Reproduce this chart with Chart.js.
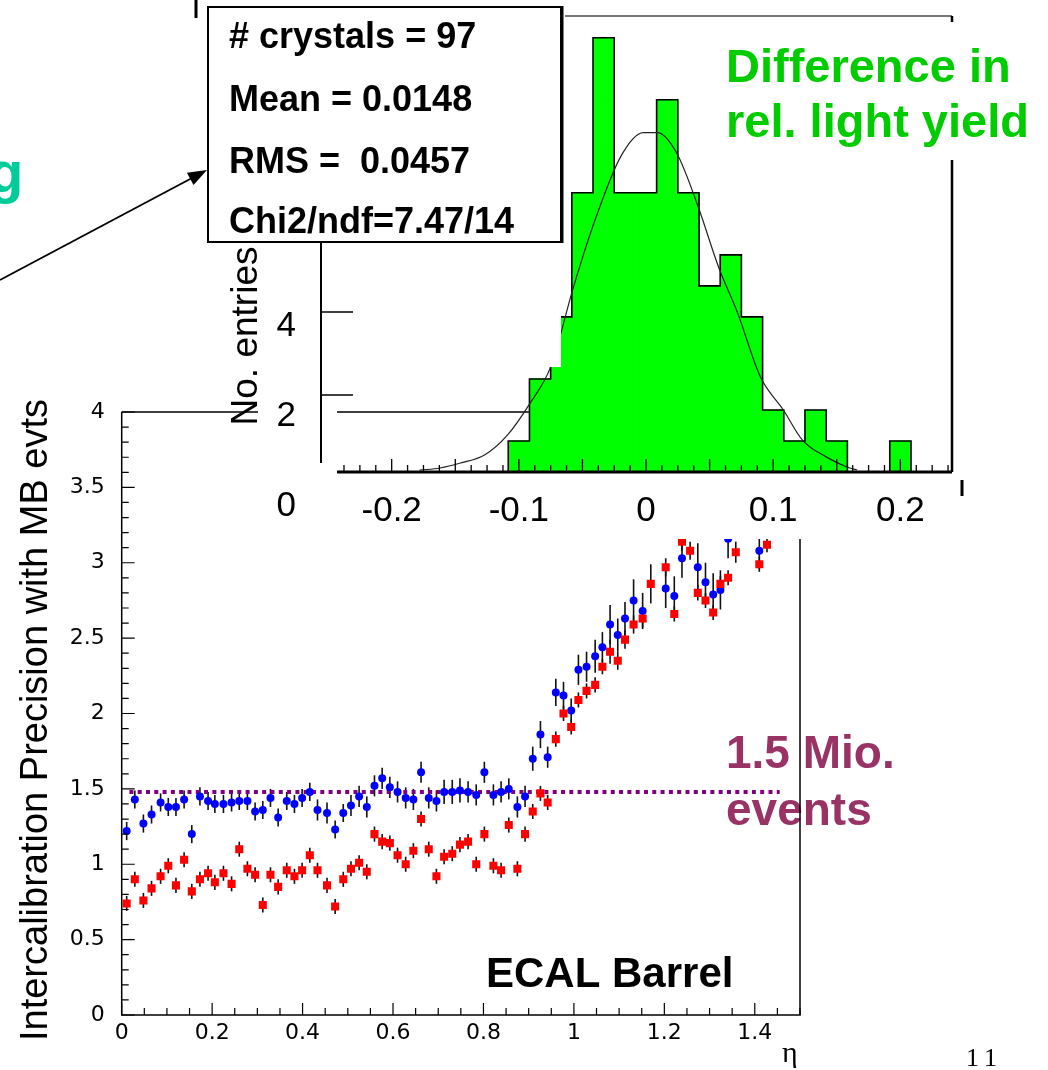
<!DOCTYPE html>
<html>
<head>
<meta charset="utf-8">
<script src="https://cdn.jsdelivr.net/npm/chart.js@4.4.1/dist/chart.umd.min.js"></script>
<style>
  html, body { margin: 0; padding: 0; background: #fff; }
  #wrap { position: relative; width: 1048px; height: 1070px; overflow: hidden; background: #fff; }
  #wrap canvas { position: absolute; left: 0; top: 0; }
</style>
</head>
<body>
<div id="wrap">
  <canvas id="main" width="1048" height="1070"></canvas>
  <canvas id="hist" width="1048" height="1070"></canvas>
</div>
<script>
// ---------- ECAL barrel: intercalibration precision vs eta ----------
const etaValues = [
  0.011, 0.029, 0.048, 0.066, 0.086, 0.103, 0.120, 0.138, 0.155, 0.173,
  0.191, 0.206, 0.225, 0.243, 0.260, 0.278, 0.295, 0.312, 0.329, 0.346,
  0.365, 0.382, 0.399, 0.416, 0.433, 0.454, 0.472, 0.490, 0.507, 0.525,
  0.542, 0.559, 0.576, 0.593, 0.610, 0.628, 0.645, 0.662, 0.679, 0.696,
  0.713, 0.731, 0.748, 0.766, 0.784, 0.802, 0.822, 0.839, 0.856, 0.875,
  0.892, 0.909, 0.926, 0.942, 0.960, 0.977, 0.994, 1.010, 1.028, 1.047,
  1.063, 1.080, 1.097, 1.113, 1.132, 1.152, 1.170, 1.187, 1.203, 1.222,
  1.239, 1.257, 1.274, 1.291, 1.308, 1.324, 1.341, 1.358, 1.375, 1.392,
  1.410, 1.427
];
const precisionBlue = [
  1.22, 1.43, 1.27, 1.33, 1.41, 1.38, 1.38, 1.43, 1.20, 1.45,
  1.42, 1.40, 1.40, 1.41, 1.42, 1.42, 1.35, 1.36, 1.44, 1.31,
  1.42, 1.40, 1.44, 1.48, 1.36, 1.34, 1.23, 1.34, 1.39, 1.45,
  1.38, 1.52, 1.57, 1.51, 1.48, 1.44, 1.43, 1.61, 1.44, 1.42,
  1.48, 1.48, 1.49, 1.48, 1.46, 1.61, 1.46, 1.48, 1.50, 1.38,
  1.45, 1.70, 1.86, 1.71, 2.14, 2.12, 2.02, 2.29, 2.31, 2.38,
  2.44, 2.59, 2.52, 2.63, 2.75, 2.68, null, null, 2.83, 2.78,
  3.03, null, 2.97, 2.87, 2.79, 2.82, 3.16, null, null, null,
  3.08, null
];
const errorBlue = [
  0.06, 0.06, 0.06, 0.06, 0.06, 0.06, 0.06, 0.06, 0.06, 0.06,
  0.06, 0.06, 0.06, 0.06, 0.06, 0.06, 0.06, 0.06, 0.06, 0.06,
  0.06, 0.06, 0.06, 0.06, 0.07, 0.07, 0.06, 0.06, 0.07, 0.07,
  0.07, 0.07, 0.07, 0.07, 0.07, 0.07, 0.07, 0.07, 0.07, 0.07,
  0.08, 0.08, 0.08, 0.07, 0.07, 0.07, 0.07, 0.07, 0.07, 0.07,
  0.07, 0.08, 0.09, 0.07, 0.09, 0.09, 0.08, 0.10, 0.10, 0.11,
  0.10, 0.13, 0.11, 0.11, 0.14, 0.12, 0.00, 0.00, 0.13, 0.13,
  0.13, 0.00, 0.16, 0.13, 0.14, 0.13, 0.13, 0.00, 0.00, 0.00,
  0.12, 0.00
];
const precisionRed = [
  0.74, 0.90, 0.76, 0.84, 0.92, 0.99, 0.86, 1.03, 0.82, 0.90,
  0.94, 0.88, 0.94, 0.87, 1.10, 0.97, 0.93, 0.73, 0.93, 0.85,
  0.96, 0.92, 0.96, 1.06, 0.96, 0.86, 0.72, 0.90, 0.97, 1.01,
  0.95, 1.20, 1.15, 1.14, 1.06, 1.00, 1.09, 1.30, 1.10, 0.92,
  1.05, 1.07, 1.13, 1.15, 1.00, 1.20, 0.99, 0.96, 1.26, 0.97,
  1.20, 1.35, 1.47, 1.41, 1.83, 2.00, 1.91, 2.09, 2.15, 2.19,
  2.31, 2.41, 2.35, 2.49, 2.59, 2.63, 2.86, null, 2.97, 2.66,
  3.14, 3.08, 2.80, 2.75, 2.67, 2.86, 2.90, 3.07, null, null,
  2.99, 3.12
];
const errorRed = [
  0.05, 0.05, 0.05, 0.05, 0.05, 0.05, 0.05, 0.05, 0.05, 0.05,
  0.05, 0.05, 0.05, 0.05, 0.05, 0.05, 0.05, 0.05, 0.05, 0.05,
  0.05, 0.05, 0.05, 0.05, 0.05, 0.05, 0.05, 0.05, 0.05, 0.05,
  0.05, 0.05, 0.05, 0.05, 0.05, 0.05, 0.05, 0.05, 0.05, 0.05,
  0.05, 0.05, 0.05, 0.05, 0.05, 0.05, 0.05, 0.05, 0.05, 0.05,
  0.05, 0.05, 0.05, 0.05, 0.05, 0.05, 0.05, 0.05, 0.05, 0.05,
  0.05, 0.08, 0.06, 0.06, 0.06, 0.06, 0.13, 0.00, 0.06, 0.05,
  0.06, 0.06, 0.05, 0.05, 0.05, 0.05, 0.05, 0.07, 0.00, 0.00,
  0.05, 0.05
];
const targetLevel = 1.48;          // precision reached with 1.5 Mio. events
const targetRange = [0.017, 1.455];
const mainXTicks = [0, 0.2, 0.4, 0.6, 0.8, 1, 1.2, 1.4];
const mainYTicks = [0, 0.5, 1, 1.5, 2, 2.5, 3, 3.5, 4];

// ---------- inset: difference in relative light yield ----------
const binCenters = [
  -0.1, -0.08333, -0.06667, -0.05, -0.03333, -0.01667, 0, 0.01667, 0.03333, 0.05,
  0.06667, 0.08333, 0.1, 0.11667, 0.13333, 0.15, 0.16667, 0.18333, 0.2
];
const binCounts = [1, 3, 5, 9, 14, 9, 9, 12, 9, 6, 7, 5, 2, 1, 2, 1, 0, 0, 1];
const binWidth = 0.016667;
const fitX = [-0.178, -0.162, -0.146, -0.127, -0.109, -0.091, -0.075, -0.057, -0.042, -0.020,
              -0.002, 0.009, 0.024, 0.041, 0.057, 0.072, 0.090, 0.108, 0.123, 0.142, 0.158, 0.166];
const fitY = [0.06, 0.13, 0.29, 0.55, 1.19, 2.23, 3.39, 5.97, 7.90, 10.16,
              10.94, 10.94, 10.29, 8.55, 6.61, 5.13, 3.06, 2.00, 1.03, 0.48, 0.16, 0.06];
const histXTicks = [-0.2, -0.1, 0, 0.1, 0.2];
const histYTicks = [0, 2, 4];
const statsLines = ['# crystals = 97', 'Mean = 0.0148', 'RMS =  0.0457', 'Chi2/ndf=7.47/14'];

const SANS = '"Liberation Sans", Arial, Helvetica, sans-serif';
const SERIF = '"Liberation Serif", "Times New Roman", serif';
Chart.defaults.font.family = SANS;
Chart.defaults.color = '#000';

// ---------- main plot ----------
const mainDecor = {
  id: 'mainDecor',
  beforeDatasetsDraw(chart) {
    const { ctx, scales: { x, y } } = chart;
    ctx.save();
    ctx.strokeStyle = '#111';
    ctx.lineWidth = 1.6;
    [[precisionBlue, errorBlue], [precisionRed, errorRed]].forEach(([vals, errs]) => {
      vals.forEach((v, i) => {
        if (v === null || !errs[i]) return;
        const px = x.getPixelForValue(etaValues[i]);
        ctx.beginPath();
        ctx.moveTo(px, y.getPixelForValue(v - errs[i]));
        ctx.lineTo(px, y.getPixelForValue(v + errs[i]));
        ctx.stroke();
      });
    });
    ctx.restore();
  },
  afterDatasetsDraw(chart) {
    const { ctx, chartArea: a, scales: { x, y } } = chart;
    ctx.save();
    // slide annotations inside the frame
    ctx.textAlign = 'left';
    ctx.textBaseline = 'alphabetic';
    ctx.fillStyle = '#993366';
    ctx.font = 'bold 46px ' + SANS;
    ctx.fillText('1.5 Mio.', 726, 768);
    ctx.fillText('events', 726, 825);
    ctx.fillStyle = '#000';
    ctx.font = 'bold 42px ' + SANS;
    ctx.fillText('ECAL Barrel', 486, 987);

    // the inset sits over the upper part of the frame
    ctx.fillStyle = '#fff';
    ctx.fillRect(258, 0, 1048 - 258, 539);

    // frame
    ctx.strokeStyle = '#000';
    ctx.lineWidth = 1.5;
    ctx.beginPath();
    ctx.moveTo(a.left, a.top); ctx.lineTo(a.left, a.bottom); ctx.lineTo(a.right, a.bottom); ctx.lineTo(a.right, 539);
    ctx.moveTo(a.left, a.top); ctx.lineTo(258, a.top);
    ctx.moveTo(337, a.top); ctx.lineTo(529, a.top);
    ctx.stroke();

    // ticks pointing into the frame
    ctx.lineWidth = 1.2;
    ctx.beginPath();
    for (let k = 0; k <= 40; k++) {
      const py = y.getPixelForValue(k / 10);
      const len = (k % 5 === 0) ? 13 : 7;
      ctx.moveTo(a.left, py); ctx.lineTo(a.left + len, py);
    }
    for (let k = 0; k <= 30; k++) {
      const px = x.getPixelForValue(k * 0.05);
      const len = (k % 4 === 0) ? 12 : 7;
      ctx.moveTo(px, a.bottom); ctx.lineTo(px, a.bottom - len);
    }
    ctx.stroke();
    ctx.restore();
  },
  afterDraw(chart) {
    const { ctx } = chart;
    ctx.save();
    // y title
    ctx.fillStyle = '#000';
    ctx.font = '38px ' + SANS;
    ctx.textAlign = 'center';
    ctx.textBaseline = 'alphabetic';
    ctx.translate(47, 720);
    ctx.rotate(-Math.PI / 2);
    ctx.fillText('Intercalibration Precision with MB evts', 0, 0);
    ctx.restore();

    ctx.save();
    ctx.fillStyle = '#000';
    ctx.textAlign = 'left';
    ctx.font = '30px ' + SERIF;
    ctx.fillText('η', 782, 1062);
    ctx.font = '26px ' + SERIF;
    ctx.fillText('1', 966, 1066);
    ctx.fillText('1', 984, 1066);

    // arrow pointing at the fit statistics
    ctx.strokeStyle = '#000';
    ctx.lineWidth = 1.8;
    ctx.beginPath();
    ctx.moveTo(0, 280);
    ctx.lineTo(192, 178);
    ctx.stroke();
    const ang = Math.atan2(170 - 280, 207 - 0);
    ctx.beginPath();
    ctx.moveTo(207, 170);
    ctx.lineTo(207 - 19 * Math.cos(ang) - 7 * Math.sin(ang), 170 - 19 * Math.sin(ang) + 7 * Math.cos(ang));
    ctx.lineTo(207 - 19 * Math.cos(ang) + 7 * Math.sin(ang), 170 - 19 * Math.sin(ang) - 7 * Math.cos(ang));
    ctx.closePath();
    ctx.fillStyle = '#000';
    ctx.fill();

    // slide heading fragment at the left edge
    ctx.fillStyle = '#00cc99';
    ctx.font = 'bold 58px ' + SANS;
    ctx.fillText('g', -12, 192);
    ctx.restore();
  }
};

const pts = (vals) => etaValues.map((e, i) => ({ x: e, y: vals[i] }));

new Chart(document.getElementById('main'), {
  type: 'scatter',
  data: {
    datasets: [
      {
        type: 'line',
        data: [{ x: targetRange[0], y: targetLevel }, { x: targetRange[1], y: targetLevel }],
        borderColor: '#800080',
        borderWidth: 4,
        borderDash: [4, 4.3],
        pointRadius: 0,
        fill: false,
        order: 3
      },
      {
        data: pts(precisionBlue),
        pointStyle: 'circle',
        pointRadius: 4,
        backgroundColor: '#0000ff',
        borderWidth: 0,
        order: 2
      },
      {
        data: pts(precisionRed),
        pointStyle: 'rect',
        pointRadius: 5.7,
        backgroundColor: '#ff0000',
        borderWidth: 0,
        order: 1
      }
    ]
  },
  options: {
    responsive: false,
    animation: false,
    events: [],
    layout: { padding: { left: 0, top: 412, right: 248, bottom: 0 } },
    plugins: { legend: { display: false }, tooltip: { enabled: false } },
    scales: {
      x: {
        type: 'linear', position: 'bottom', min: 0, max: 1.5,
        grid: { display: false, drawTicks: false },
        border: { display: false },
        afterBuildTicks: (s) => { s.ticks = mainXTicks.map(v => ({ value: v })); },
        afterFit: (s) => { s.height = 55; },
        ticks: {
          autoSkip: false, maxRotation: 0, padding: 5,
          font: { family: '"DejaVu Sans", sans-serif', size: 22 },
          callback: (v) => String(v)
        }
      },
      y: {
        type: 'linear', position: 'left', min: 0, max: 4,
        grid: { display: false, drawTicks: false },
        border: { display: false },
        afterBuildTicks: (s) => { s.ticks = mainYTicks.map(v => ({ value: v })); },
        afterFit: (s) => { s.width = 121.7; },
        ticks: {
          autoSkip: false, padding: 17,
          font: { family: '"DejaVu Sans", sans-serif', size: 22 },
          callback: (v) => String(v)
        }
      }
    }
  },
  plugins: [mainDecor]
});

// ---------- inset histogram ----------
const histDecor = {
  id: 'histDecor',
  afterDatasetsDraw(chart) {
    const { ctx, chartArea: a, scales: { x, yN, yLab } } = chart;
    ctx.save();
    // label panel overlapping the left shoulder
    ctx.fillStyle = '#fff';
    ctx.fillRect(323, 243, 561 - 323, 367 - 243);

    // x axis with ticks
    ctx.strokeStyle = '#000';
    ctx.lineWidth = 3;
    ctx.beginPath();
    ctx.moveTo(a.left, a.bottom); ctx.lineTo(a.right, a.bottom);
    ctx.stroke();
    ctx.lineWidth = 1.3;
    ctx.beginPath();
    for (let k = -19; k <= 19; k++) {
      const px = x.getPixelForValue(k * 0.0125);
      const len = (k % 4 === 0) ? 13 : 7;
      ctx.moveTo(px, a.bottom); ctx.lineTo(px, a.bottom - len);
    }
    ctx.stroke();

    // frame top and right
    ctx.strokeStyle = '#777';
    ctx.lineWidth = 2;
    ctx.beginPath();
    ctx.moveTo(565, a.top); ctx.lineTo(a.right, a.top);
    ctx.stroke();
    ctx.strokeStyle = '#000';
    ctx.lineWidth = 2.5;
    ctx.beginPath();
    ctx.moveTo(a.right, a.top); ctx.lineTo(a.right, a.bottom);
    ctx.stroke();

    // left axis with its two ticks and labels
    ctx.lineWidth = 2;
    ctx.beginPath();
    ctx.moveTo(321, 242); ctx.lineTo(321, 463);
    ctx.stroke();
    ctx.lineWidth = 1.5;
    ctx.beginPath();
    [2, 4].forEach(v => {
      const py = yN.getPixelForValue(v);
      ctx.moveTo(321, py); ctx.lineTo(353, py);
    });
    ctx.stroke();
    ctx.fillStyle = '#000';
    ctx.font = '35px ' + SANS;
    ctx.textAlign = 'right';
    ctx.textBaseline = 'middle';
    histYTicks.forEach(v => ctx.fillText(String(v), 296, yLab.getPixelForValue(v)));

    ctx.lineWidth = 3;
    ctx.beginPath();
    ctx.moveTo(196, 0); ctx.lineTo(196, 18);
    ctx.moveTo(962, 480); ctx.lineTo(962, 496);
    ctx.stroke();

    // fit statistics box
    ctx.fillStyle = '#fff';
    ctx.fillRect(208, 7, 353, 235);
    ctx.lineWidth = 2;
    ctx.strokeRect(208, 7, 353, 235);
    ctx.lineWidth = 3;
    ctx.beginPath();
    ctx.moveTo(562, 6); ctx.lineTo(562, 243);
    ctx.stroke();
    ctx.fillStyle = '#000';
    ctx.font = 'bold 36px ' + SANS;
    ctx.textAlign = 'left';
    ctx.textBaseline = 'alphabetic';
    const baselines = [48, 111, 173, 233];
    statsLines.forEach((t, i) => ctx.fillText(t, 229, baselines[i]));

    // y title
    ctx.save();
    ctx.font = '37px ' + SANS;
    ctx.textAlign = 'center';
    ctx.translate(257, 336);
    ctx.rotate(-Math.PI / 2);
    ctx.fillText('No. entries', 0, 0);
    ctx.restore();

    // caption
    ctx.fillStyle = '#fff';
    ctx.fillRect(721, 22, 1048 - 721, 138);
    ctx.fillStyle = '#00cc00';
    ctx.font = 'bold 47px ' + SANS;
    ctx.fillText('Difference in', 726, 82);
    ctx.fillText('rel. light yield', 726, 137);
    ctx.restore();
  }
};

// closed step outline around the bins
const outline = [{ x: binCenters[0] - binWidth / 2, y: 0 }];
binCenters.forEach((c, i) => outline.push({ x: c - binWidth / 2, y: binCounts[i] }));
outline.push({ x: binCenters[binCenters.length - 1] + binWidth / 2, y: 0 });

new Chart(document.getElementById('hist'), {
  type: 'bar',
  data: {
    datasets: [
      {
        type: 'line',
        data: fitX.map((v, i) => ({ x: v, y: fitY[i] })),
        borderColor: '#222',
        borderWidth: 1.2,
        pointRadius: 0,
        cubicInterpolationMode: 'monotone',
        fill: false,
        order: 0
      },
      {
        type: 'line',
        data: outline,
        stepped: 'before',
        borderColor: '#000',
        borderWidth: 1.6,
        pointRadius: 0,
        fill: false,
        order: 1
      },
      {
        type: 'bar',
        data: binCenters.map((c, i) => ({ x: c, y: binCounts[i] })),
        backgroundColor: '#00ff00',
        borderWidth: 0,
        barPercentage: 1,
        categoryPercentage: 1,
        order: 2
      }
    ]
  },
  options: {
    responsive: false,
    animation: false,
    events: [],
    layout: { padding: { left: 337, top: 16, right: 96, bottom: 0 } },
    plugins: { legend: { display: false }, tooltip: { enabled: false } },
    scales: {
      x: {
        type: 'linear', position: 'bottom', min: -0.243, max: 0.2406, offset: false,
        grid: { display: false, drawTicks: false },
        border: { display: false },
        afterBuildTicks: (s) => { s.ticks = histXTicks.map(v => ({ value: v })); },
        afterFit: (s) => { s.height = 1070 - 472; },
        ticks: { autoSkip: false, maxRotation: 0, padding: 18, font: { size: 35 }, callback: (v) => String(v) }
      },
      y: { type: 'linear', display: false, min: 0, max: 14.7 },
      yN: { type: 'linear', display: false, min: 0.145, max: 11.13 },
      yLab: { type: 'linear', display: false, min: 0.765, max: 10.876 }
    }
  },
  plugins: [histDecor]
});
</script>
</body>
</html>
